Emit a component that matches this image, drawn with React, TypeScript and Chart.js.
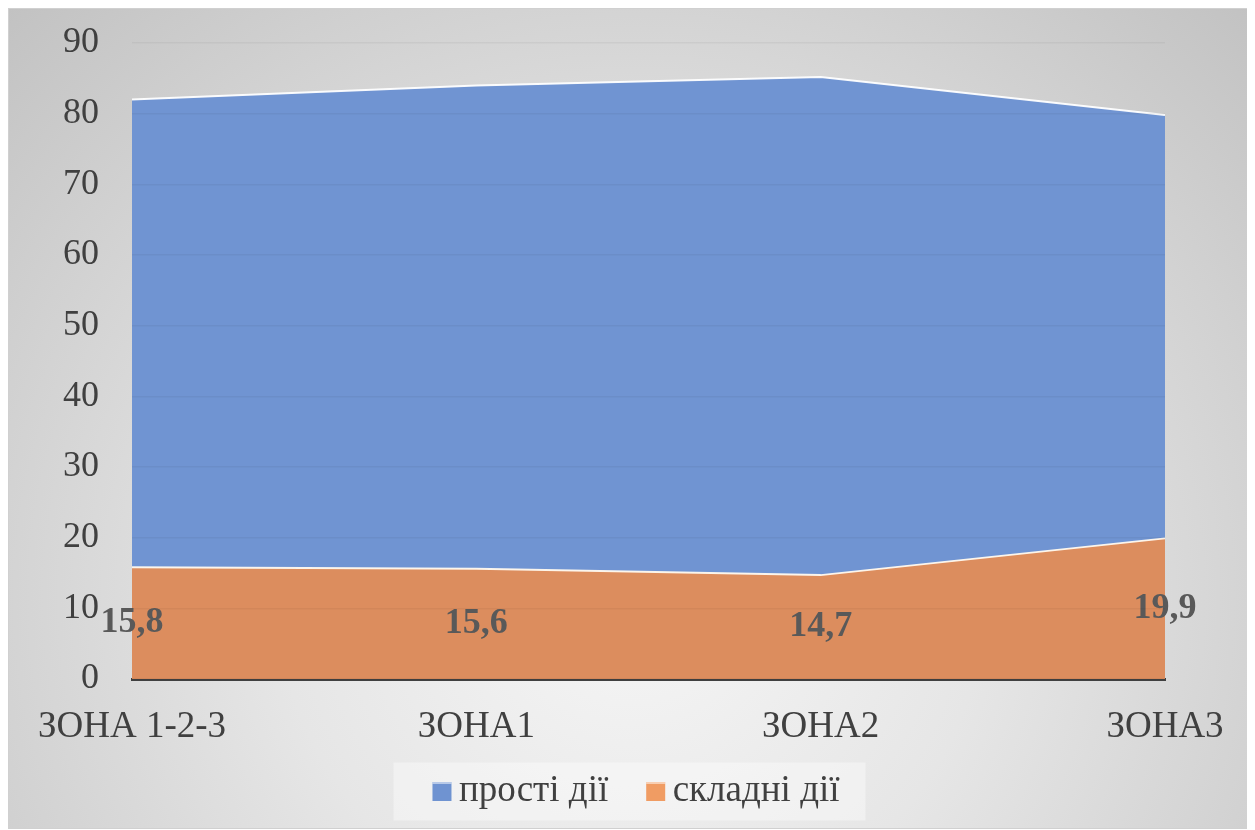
import { useEffect, useRef } from "react";
import { Chart, registerables } from "chart.js";

Chart.register(...registerables);

const categories = ["ЗОНА 1-2-3", "ЗОНА1", "ЗОНА2", "ЗОНА3"];
const complexActions = [15.8, 15.6, 14.7, 19.9];
const simpleActions = [66.2, 68.4, 70.5, 59.9];
const complexLabels = ["15,8", "15,6", "14,7", "19,9"];
const seriesNames = ["прості дії", "складні дії"];
const legendColors = ["#6F93D1", "#F09C63"];
const yMin = 0;
const yMax = 90;
const yStep = 10;

const FONT = "'Liberation Serif', 'Times New Roman', serif";

const legendPlugin = {
  id: "legendTweaks",
  afterLayout(chart: any) {
    const lg = chart.legend;
    if (!lg) return;
    lg.left += 49;
    lg.right += 49;
    lg.top -= 8;
    lg.bottom -= 8;
  },
  beforeDraw(chart: any) {
    const lg = chart.legend;
    if (!lg || !lg.legendHitBoxes || !lg.legendHitBoxes.length) return;
    const boxes = lg.legendHitBoxes;
    const left = Math.min(...boxes.map((b: any) => b.left));
    const right = Math.max(...boxes.map((b: any) => b.left + b.width));
    const cy = boxes[0].top + boxes[0].height / 2;
    const ctx = chart.ctx;
    ctx.save();
    ctx.fillStyle = "rgba(255,255,255,0.38)";
    ctx.fillRect(left - 39, cy - 29, right - left + 39 + 26, 58);
    ctx.restore();
  },
  afterDraw(chart: any) {
    const lg = chart.legend;
    if (!lg || !lg.legendHitBoxes) return;
    const ctx = chart.ctx;
    ctx.save();
    lg.legendHitBoxes.forEach((b: any, i: number) => {
      const cy = b.top + b.height / 2;
      ctx.fillStyle = legendColors[i];
      ctx.fillRect(b.left, cy - 9.5, 19, 19);
      ctx.fillStyle = "rgba(255,255,255,0.5)";
      ctx.fillRect(b.left, cy - 9.5, 19, 2);
    });
    ctx.restore();
  },
};

const dataLabelPlugin = {
  id: "areaLabels",
  afterDatasetsDraw(chart: any) {
    const ctx = chart.ctx;
    const xs = chart.scales.x;
    const ys = chart.scales.y;
    ctx.save();
    ctx.font = `bold 36px ${FONT}`;
    ctx.fillStyle = "#595959";
    ctx.textAlign = "center";
    ctx.textBaseline = "middle";
    complexActions.forEach((v, i) => {
      const x = xs.getPixelForValue(i);
      const y = ys.getPixelForValue(v / 2);
      ctx.fillText(complexLabels[i], x, y);
    });
    ctx.restore();
  },
};

export default function App() {
  const ref = useRef<HTMLCanvasElement | null>(null);

  useEffect(() => {
    if (!ref.current) return;
    const chart = new Chart(ref.current, {
      type: "line",
      data: {
        labels: categories,
        datasets: [
          {
            label: seriesNames[1],
            data: complexActions,
            backgroundColor: "#DC8D5E",
            borderColor: "rgba(255,250,240,0.95)",
            borderWidth: 2,
            fill: "origin",
            pointRadius: 0,
            tension: 0,
          },
          {
            label: seriesNames[0],
            data: simpleActions,
            backgroundColor: "#7094D2",
            borderColor: "rgba(255,255,255,0.95)",
            borderWidth: 2,
            fill: "-1",
            pointRadius: 0,
            tension: 0,
          },
        ],
      },
      options: {
        animation: false,
        responsive: true,
        maintainAspectRatio: false,
        layout: { padding: { top: 34, right: 89, bottom: 0, left: 0 } },
        plugins: {
          tooltip: { enabled: false },
          legend: {
            position: "bottom",
            reverse: true,
            labels: {
              font: { family: FONT, size: 37 },
              color: "#404040",
              boxWidth: 8,
              boxHeight: 19,
              padding: 38,
              generateLabels: (c: any) =>
                c.data.datasets.map((ds: any, i: number) => ({
                  text: ds.label,
                  fillStyle: "rgba(0,0,0,0)",
                  strokeStyle: "rgba(0,0,0,0)",
                  lineWidth: 0,
                  datasetIndex: i,
                  hidden: false,
                  fontColor: "#404040",
                })),
            },
          },
        },
        scales: {
          x: {
            grid: { display: false, drawTicks: false },
            border: { display: true, color: "#404040", width: 3 },
            ticks: {
              font: { family: FONT, size: 37 },
              color: "#404040",
              padding: 26,
              maxRotation: 0,
              autoSkip: false,
            },
            afterFit: (s: any) => {
              s.height = 64;
            },
          },
          y: {
            stacked: true,
            min: yMin,
            max: yMax,
            grid: { color: "rgba(0,0,0,0.045)", lineWidth: 1.5, drawTicks: false, z: 1 },
            border: { display: false },
            ticks: {
              stepSize: yStep,
              font: { family: FONT, size: 36 },
              color: "#404040",
              padding: 33,
            },
            afterFit: (s: any) => {
              s.width = 123;
              s.paddingTop = 0;
              s.paddingBottom = 0;
            },
          },
        },
      },
      plugins: [legendPlugin, dataLabelPlugin],
    } as any);
    return () => chart.destroy();
  }, []);

  return (
    <div
      style={{
        position: "relative",
        width: 1247,
        height: 821,
        boxSizing: "border-box",
        border: "1px solid #d0d0d0",
        background:
          "radial-gradient(ellipse farthest-corner at 50% 72%, #f6f6f6 0%, #e6e6e6 40%, #c2c2c2 100%)",
      }}
    >
      <canvas ref={ref} />
    </div>
  );
}
